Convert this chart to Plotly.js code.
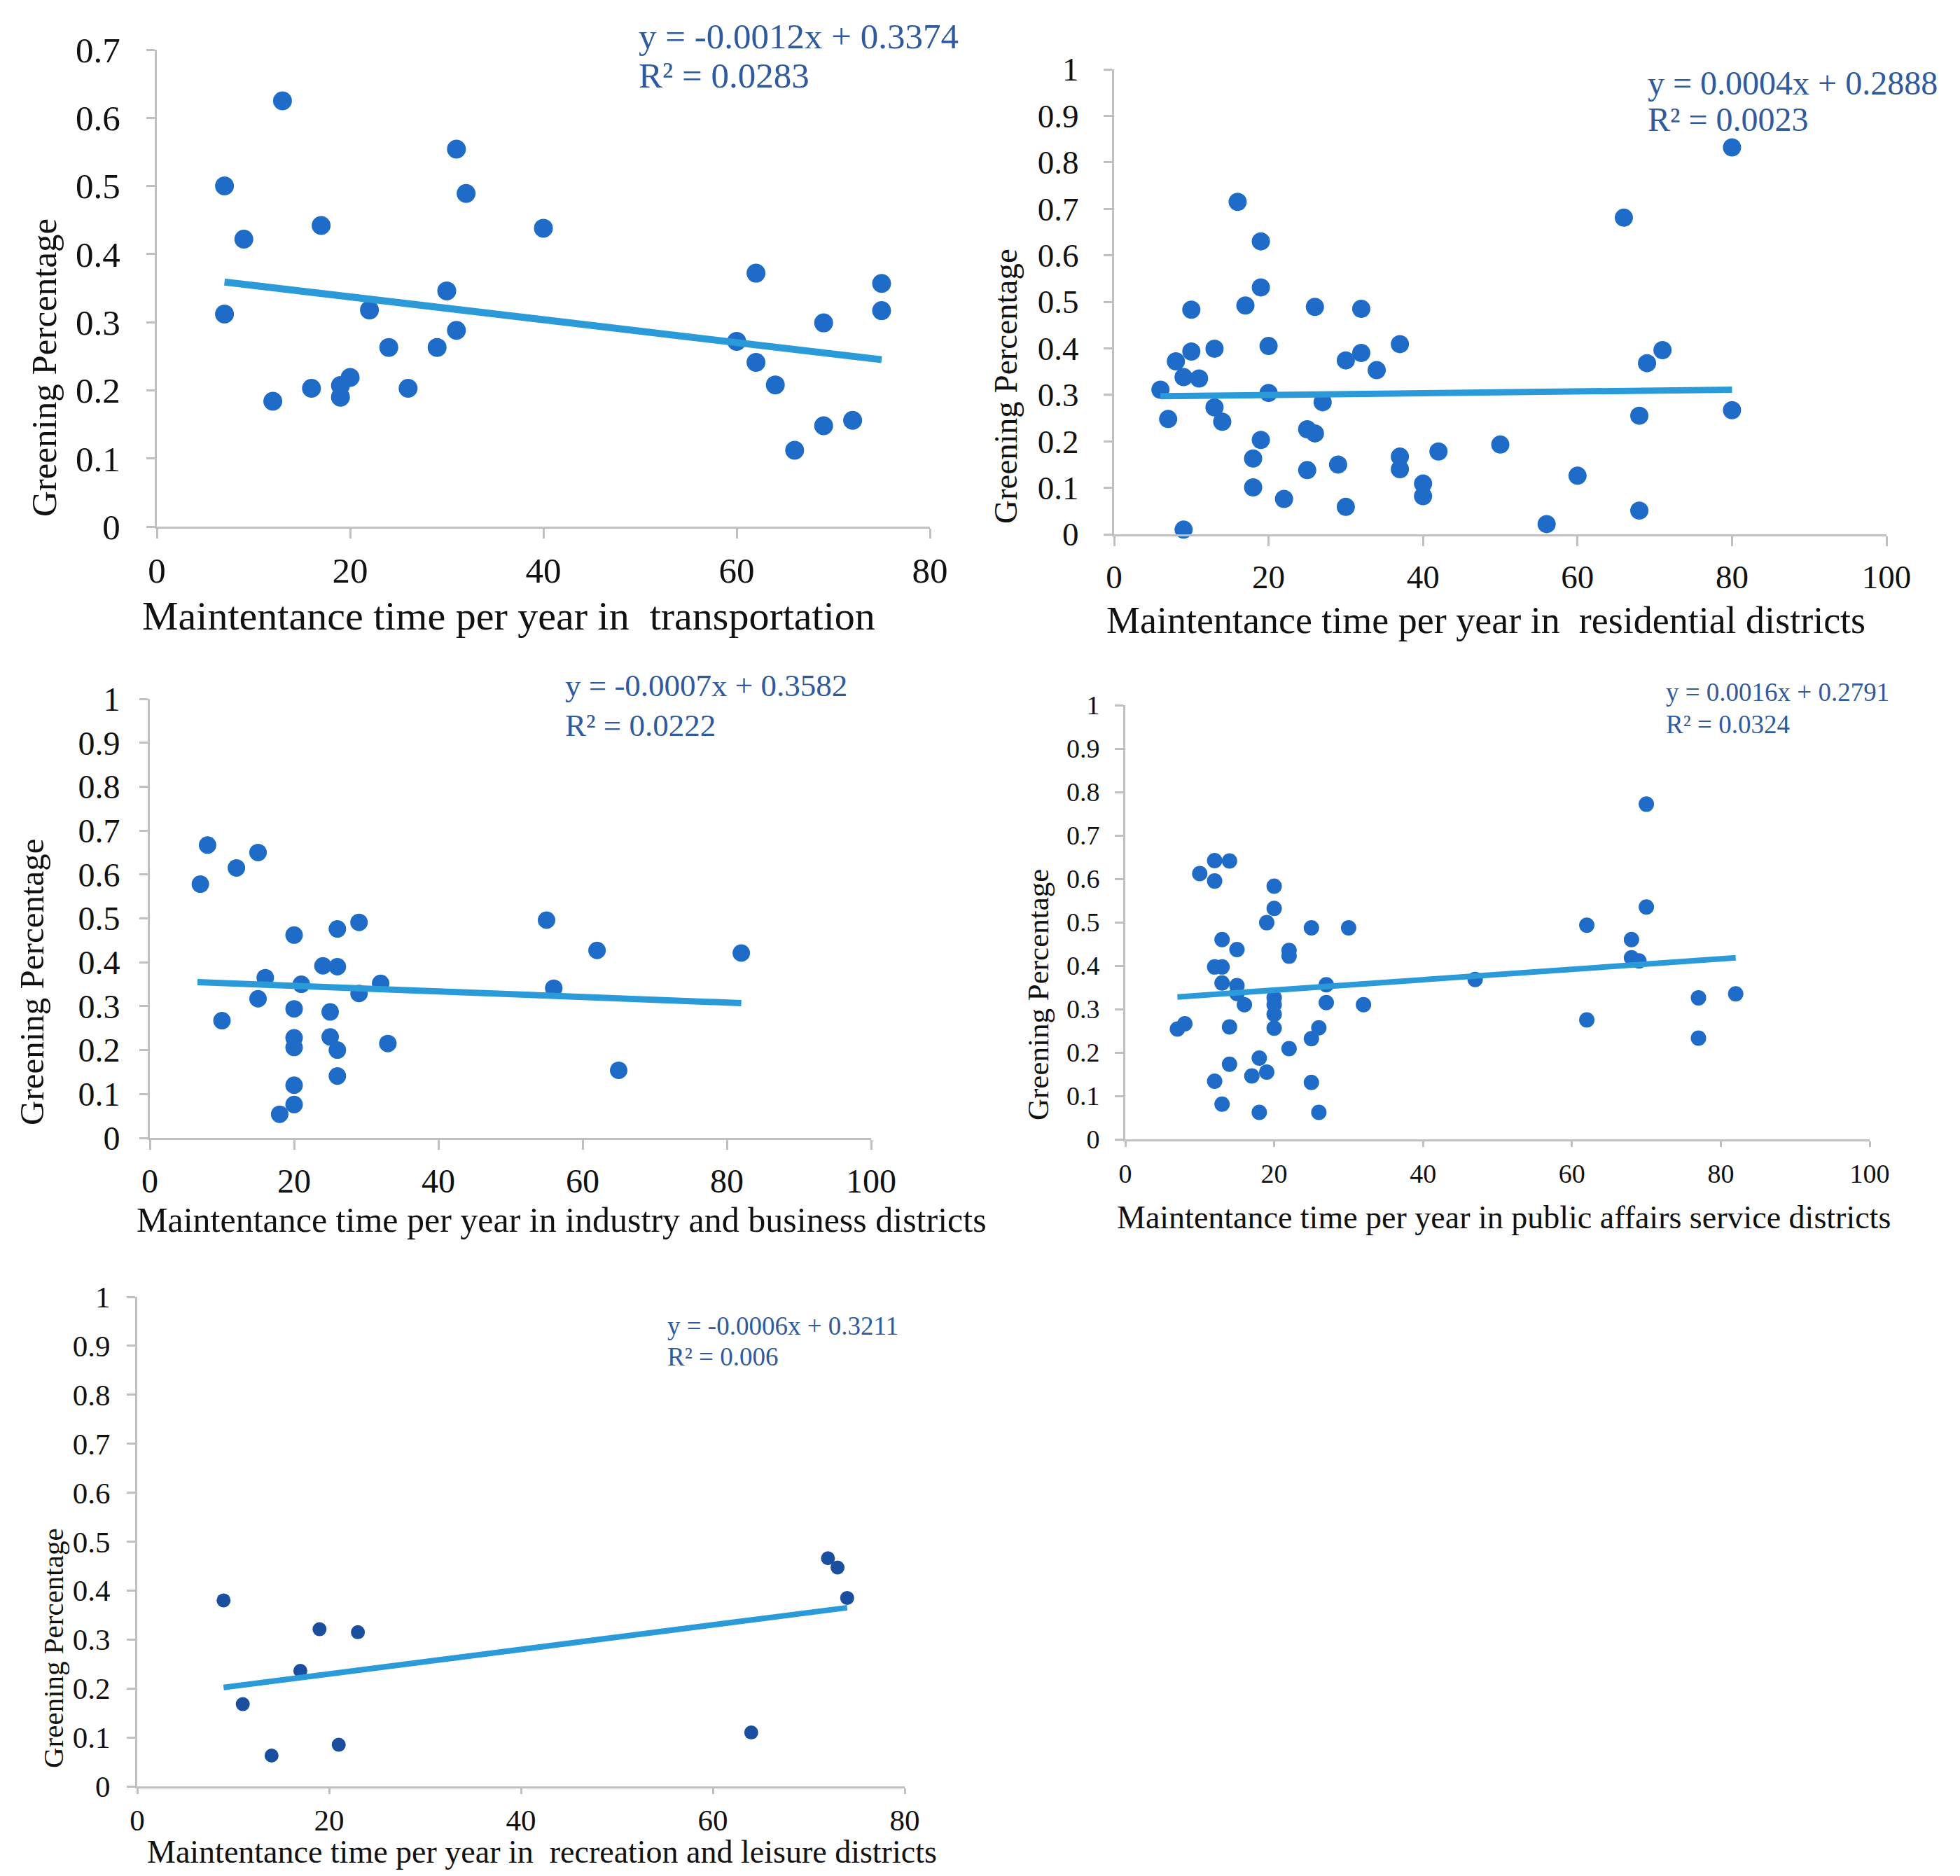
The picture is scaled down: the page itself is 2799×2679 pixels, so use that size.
<!DOCTYPE html>
<html>
<head>
<meta charset="utf-8">
<script src="https://cdn.plot.ly/plotly-3.0.1.min.js"></script>
<style>html,body{margin:0;padding:0;background:#fff;}#chart{width:2799px;height:2679px;}</style>
</head>
<body>
<div id="chart"></div>
<script>
// ---------- DATA ----------
// Panel 1: transportation
const transX = [7, 7, 9, 13, 12, 17, 16, 19, 19, 20, 22, 24, 26, 29, 30, 31, 31, 32, 40, 60, 62, 62, 64, 66, 69, 69, 72, 75, 75];
const transY = [0.50, 0.312, 0.422, 0.625, 0.184, 0.442, 0.203, 0.207, 0.19, 0.219, 0.318, 0.263, 0.203, 0.263, 0.346, 0.554, 0.288, 0.489, 0.438, 0.272, 0.372, 0.241, 0.208, 0.112, 0.299, 0.148, 0.156, 0.357, 0.317];
const transTrendX = [7, 75];
const transTrendY = [0.359, 0.245];

// Panel 2: residential districts
const resX = [6, 7, 8, 9, 9, 10, 10, 11, 13, 13, 14, 16, 17, 18, 18, 19, 19, 19, 20, 20, 22, 25, 25, 26, 26, 27, 29, 30, 30, 32, 32, 34, 37, 37, 37, 40, 40, 42, 50, 56, 60, 66, 68, 68, 69, 71, 80, 80];
const resY = [0.311, 0.248, 0.372, 0.338, 0.01, 0.483, 0.393, 0.335, 0.399, 0.273, 0.242, 0.715, 0.492, 0.163, 0.101, 0.630, 0.531, 0.203, 0.405, 0.304, 0.076, 0.226, 0.138, 0.489, 0.217, 0.284, 0.150, 0.374, 0.059, 0.485, 0.390, 0.353, 0.409, 0.167, 0.140, 0.109, 0.082, 0.178, 0.193, 0.022, 0.126, 0.681, 0.255, 0.051, 0.368, 0.396, 0.832, 0.267];
const resTrendX = [6, 80];
const resTrendY = [0.297, 0.311];

// Panel 3: industry and business districts
const indX = [7, 8, 10, 12, 15, 15, 16, 18, 20, 20, 20, 20, 20, 20, 21, 24, 25, 25, 26, 26, 26, 26, 29, 29, 32, 33, 55, 56, 62, 65, 82];
const indY = [0.578, 0.667, 0.267, 0.615, 0.650, 0.317, 0.365, 0.054, 0.462, 0.294, 0.228, 0.206, 0.120, 0.076, 0.350, 0.392, 0.287, 0.230, 0.476, 0.390, 0.200, 0.141, 0.491, 0.329, 0.352, 0.215, 0.496, 0.341, 0.427, 0.154, 0.421];
const indTrendX = [6.6, 82];
const indTrendY = [0.355, 0.307];

// Panel 4: public affairs service districts
const pubX = [7, 8, 10, 12, 12, 12, 12, 13, 13, 13, 13, 14, 14, 14, 15, 15, 15, 16, 17, 18, 18, 19, 19, 20, 20, 20, 20, 20, 20, 22, 22, 22, 25, 25, 25, 26, 26, 27, 27, 30, 32, 47, 62, 62, 68, 68, 69, 70, 70, 77, 77, 82];
const pubY = [0.254, 0.266, 0.612, 0.642, 0.595, 0.397, 0.134, 0.460, 0.397, 0.360, 0.081, 0.641, 0.259, 0.173, 0.437, 0.354, 0.336, 0.310, 0.146, 0.187, 0.062, 0.499, 0.155, 0.583, 0.532, 0.326, 0.310, 0.288, 0.256, 0.435, 0.422, 0.209, 0.487, 0.232, 0.131, 0.257, 0.062, 0.356, 0.315, 0.487, 0.310, 0.368, 0.493, 0.275, 0.460, 0.418, 0.411, 0.772, 0.535, 0.326, 0.233, 0.335];
const pubTrendX = [7, 82];
const pubTrendY = [0.328, 0.418];

// Panel 5: recreation and leisure districts
const recX = [9, 11, 14, 17, 19, 21, 23, 64, 72, 73, 74];
const recY = [0.380, 0.168, 0.063, 0.236, 0.321, 0.085, 0.315, 0.110, 0.466, 0.447, 0.385];
const recTrendX = [9, 74];
const recTrendY = [0.202, 0.365];

// Tick values / labels
const ticks80 = [0, 20, 40, 60, 80];
const ticks100 = [0, 20, 40, 60, 80, 100];
const ticksY07 = [0, 0.1, 0.2, 0.3, 0.4, 0.5, 0.6, 0.7];
const ticksY07Text = ["0", "0.1", "0.2", "0.3", "0.4", "0.5", "0.6", "0.7"];
const ticksY1 = [0, 0.1, 0.2, 0.3, 0.4, 0.5, 0.6, 0.7, 0.8, 0.9, 1];
const ticksY1Text = ["0", "0.1", "0.2", "0.3", "0.4", "0.5", "0.6", "0.7", "0.8", "0.9", "1"];

const xTitles = [
  "Maintentance time per year in  transportation",
  "Maintentance time per year in  residential districts",
  "Maintentance time per year in industry and business districts",
  "Maintentance time per year in public affairs service districts",
  "Maintentance time per year in  recreation and leisure districts"
];
const yTitle = "Greening Percentage";
const equations = [
  "y = -0.0012x + 0.3374",
  "y = 0.0004x + 0.2888",
  "y = -0.0007x + 0.3582",
  "y = 0.0016x + 0.2791",
  "y = -0.0006x + 0.3211"
];
const r2Texts = ["R² = 0.0283", "R² = 0.0023", "R² = 0.0222", "R² = 0.0324", "R² = 0.006"];

// ---------- LAYOUT ----------
const W = 2799, H = 2679;
const FONT = "Liberation Serif, Times New Roman, serif";
const fx = p => p / W;
const fy = p => 1 - p / H;

const panels = [
  {x: transX, y: transY, tx: transTrendX, ty: transTrendY, xd: [224, 1328], yd: [752, 71], xt: ticks80, xr: [0, 80], yt: ticksY07, ytt: ticksY07Text, yr: [0, 0.7],
   tick: 51, xlen: 14, xstand: 2, ystand: 27, msize: 27, mcol: "#1f6cc8", lw: 10,
   xtitle: {x: 726, y: 879, s: 58}, ytitle: {x: 63, y: 525, s: 51}, eq: {x: 910, y: 52, r: 108, s: 51}},
  {x: resX, y: resY, tx: resTrendX, ty: resTrendY, xd: [1591, 2694], yd: [763, 99], xt: ticks100, xr: [0, 100], yt: ticksY1, ytt: ticksY1Text, yr: [0, 1],
   tick: 47, xlen: 14, xstand: 4, ystand: 26, msize: 26, mcol: "#1f6cc8", lw: 9,
   xtitle: {x: 2122, y: 886, s: 54}, ytitle: {x: 1436, y: 552, s: 47}, eq: {x: 2351, y: 118, r: 171, s: 48}},
  {x: indX, y: indY, tx: indTrendX, ty: indTrendY, xd: [214, 1244], yd: [1625, 998], xt: ticks100, xr: [0, 100], yt: ticksY1, ytt: ticksY1Text, yr: [0, 1],
   tick: 48, xlen: 14, xstand: 3, ystand: 18, msize: 25, mcol: "#1f6cc8", lw: 9,
   xtitle: {x: 802, y: 1742, s: 50}, ytitle: {x: 45, y: 1402, s: 49}, eq: {x: 805, y: 979, r: 1036, s: 45}},
  {x: pubX, y: pubY, tx: pubTrendX, ty: pubTrendY, xd: [1607, 2670], yd: [1627, 1007], xt: ticks100, xr: [0, 100], yt: ticksY1, ytt: ticksY1Text, yr: [0, 1],
   tick: 38, xlen: 8, xstand: 5, ystand: 14, msize: 22, mcol: "#1f6cc8", lw: 8,
   xtitle: {x: 2147, y: 1738, s: 46}, ytitle: {x: 1482, y: 1421, s: 43}, eq: {x: 2377, y: 989, r: 1035, s: 37}},
  {x: recX, y: recY, tx: recTrendX, ty: recTrendY, xd: [196, 1292], yd: [2551, 1852], xt: ticks80, xr: [0, 80], yt: ticksY1, ytt: ticksY1Text, yr: [0, 1],
   tick: 43, xlen: 8, xstand: 0, ystand: 15, msize: 20, mcol: "#1a4fa0", lw: 8,
   xtitle: {x: 774, y: 2644, s: 46}, ytitle: {x: 76, y: 2354, s: 41}, eq: {x: 951, y: 1893, r: 1937, s: 37}}
];

const data = [];
const layout = {
  width: W, height: H,
  margin: {l: 0, r: 0, t: 0, b: 0},
  paper_bgcolor: "#ffffff", plot_bgcolor: "#ffffff",
  showlegend: false,
  annotations: []
};

panels.forEach((p, i) => {
  const n = i + 1;
  const xa = "x" + (n === 1 ? "" : n), ya = "y" + (n === 1 ? "" : n);
  data.push({
    type: "scatter", mode: "markers", x: p.x, y: p.y, xaxis: xa, yaxis: ya,
    marker: {size: p.msize, color: p.mcol}, cliponaxis: false, hoverinfo: "x+y"
  });
  data.push({
    type: "scatter", mode: "lines", x: p.tx, y: p.ty, xaxis: xa, yaxis: ya,
    line: {color: "#2a9ad8", width: p.lw}, cliponaxis: false
  });
  const axCommon = {
    showgrid: false, zeroline: false, showline: true, linecolor: "#c0c0c0", linewidth: 3,
    ticks: "outside", tickwidth: 3, tickcolor: "#c0c0c0",
    tickfont: {family: FONT, size: p.tick, color: "#111"}, fixedrange: true
  };
  layout["xaxis" + (n === 1 ? "" : n)] = Object.assign({}, axCommon, {
    domain: [fx(p.xd[0]), fx(p.xd[1])], range: p.xr, tickmode: "array", tickvals: p.xt,
    anchor: ya, ticklen: p.xlen, ticklabelstandoff: p.xstand
  });
  layout["yaxis" + (n === 1 ? "" : n)] = Object.assign({}, axCommon, {
    domain: [fy(p.yd[0]), fy(p.yd[1])], range: p.yr, tickmode: "array", tickvals: p.yt, ticktext: p.ytt,
    anchor: xa, ticklen: 12, ticklabelstandoff: p.ystand
  });
  layout.annotations.push({
    xref: "paper", yref: "paper", x: fx(p.xtitle.x), y: fy(p.xtitle.y), xanchor: "center", yanchor: "middle",
    text: xTitles[i], showarrow: false, font: {family: FONT, size: p.xtitle.s, color: "#111"}
  });
  layout.annotations.push({
    xref: "paper", yref: "paper", x: fx(p.ytitle.x), y: fy(p.ytitle.y), xanchor: "center", yanchor: "middle",
    text: yTitle, textangle: -90, showarrow: false, font: {family: FONT, size: p.ytitle.s, color: "#111"}
  });
  layout.annotations.push({
    xref: "paper", yref: "paper", x: fx(p.eq.x), y: fy(p.eq.y), xanchor: "left", yanchor: "middle",
    text: equations[i], showarrow: false, font: {family: FONT, size: p.eq.s, color: "#2f5b9e"}
  });
  layout.annotations.push({
    xref: "paper", yref: "paper", x: fx(p.eq.x), y: fy(p.eq.r), xanchor: "left", yanchor: "middle",
    text: r2Texts[i], showarrow: false, font: {family: FONT, size: p.eq.s, color: "#2f5b9e"}
  });
});

Plotly.newPlot("chart", data, layout, {staticPlot: true, displayModeBar: false});
</script>
</body>
</html>
